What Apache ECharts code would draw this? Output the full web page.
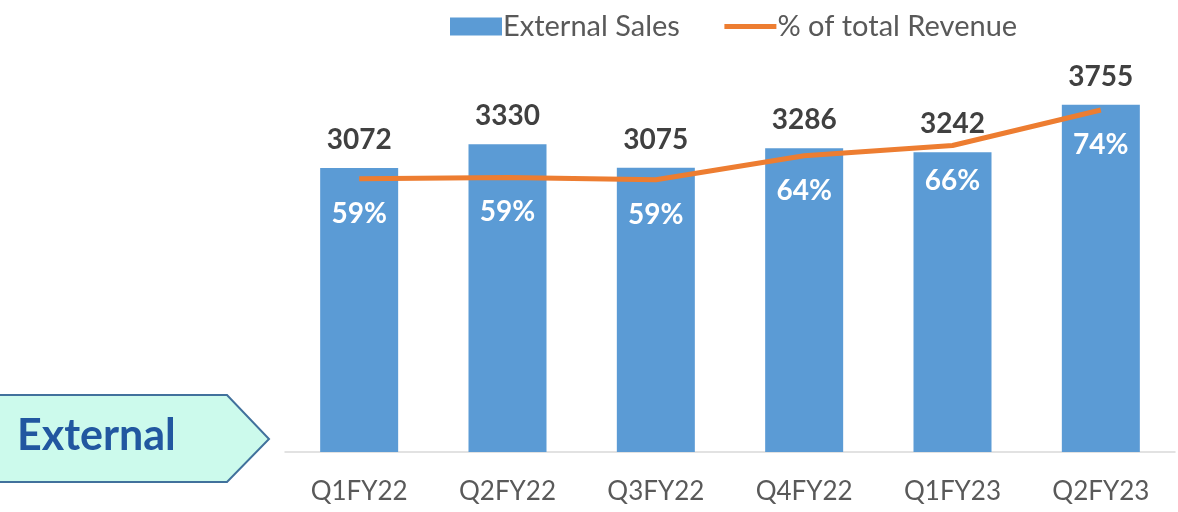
<!DOCTYPE html>
<html>
<head>
<meta charset="utf-8">
<script src="https://cdn.jsdelivr.net/npm/echarts@6/dist/echarts.min.js"></script>
<style>
  html, body { margin: 0; padding: 0; background: #fff; }
  #chart { width: 1178px; height: 512px; }
</style>
</head>
<body>
<div id="chart"></div>
<script>
var quarters = ['Q1FY22', 'Q2FY22', 'Q3FY22', 'Q4FY22', 'Q1FY23', 'Q2FY23'];
var externalSales = [3072, 3330, 3075, 3286, 3242, 3755];
var revenueShare = [59.1, 59.4, 58.9, 64.1, 66.3, 74.0];

var font = 'Lato, "Open Sans", sans-serif';
var chart = echarts.init(document.getElementById('chart'));
var option = {
  animation: false,
  textStyle: { fontFamily: font },
  legend: {
    top: 7,
    left: 445,
    itemGap: 42,
    itemWidth: 52,
    itemHeight: 18,
    textStyle: { fontSize: 29, color: '#595959', fontFamily: font, padding: [0, 0, 0, -4] },
    data: [
      { name: 'External Sales', icon: 'rect' },
      { name: '% of total Revenue', itemStyle: { opacity: 0 }, lineStyle: { width: 5 } }
    ]
  },
  grid: { left: 285, right: 3, top: 36, bottom: 60 },
  xAxis: {
    type: 'category',
    data: quarters,
    axisLine: { lineStyle: { color: '#D9D9D9', width: 1.5 } },
    axisTick: { show: false },
    axisLabel: { color: '#595959', fontSize: 26, margin: 27, fontFamily: font }
  },
  yAxis: [
    { type: 'value', min: 0, max: 4500, show: false, splitLine: { show: false } },
    { type: 'value', min: 0, max: 90, show: false, splitLine: { show: false } }
  ],
  series: [
    {
      name: 'External Sales',
      type: 'bar',
      data: externalSales,
      barWidth: 78,
      itemStyle: { color: '#5B9BD5' },
      label: {
        show: true,
        position: 'top',
        distance: 14,
        fontSize: 28,
        fontWeight: 'bold',
        color: '#404040',
        fontFamily: font
      }
    },
    {
      name: '% of total Revenue',
      type: 'line',
      yAxisIndex: 1,
      data: revenueShare,
      symbol: 'circle',
      symbolSize: 0,
      showSymbol: true,
      lineStyle: { color: '#ED7D31', width: 5 },
      itemStyle: { color: '#ED7D31' },
      label: {
        show: true,
        position: 'bottom',
        distance: 21,
        fontSize: 28,
        fontWeight: 'bold',
        color: '#ffffff',
        fontFamily: font,
        formatter: function (p) { return Math.round(p.value) + '%'; }
      }
    }
  ],
  graphic: [
    {
      type: 'polygon',
      shape: { points: [[-5, 395], [227, 395], [269, 439], [227, 482], [-5, 482]] },
      style: { fill: '#CCFAEC', stroke: '#41719C', lineWidth: 2 }
    },
    {
      type: 'text',
      left: 17,
      top: 415,
      style: {
        text: 'External',
        fontSize: 43,
        fontWeight: 'bold',
        fill: '#2157A0',
        fontFamily: font
      }
    }
  ]
};
chart.setOption(option);
</script>
</body>
</html>
